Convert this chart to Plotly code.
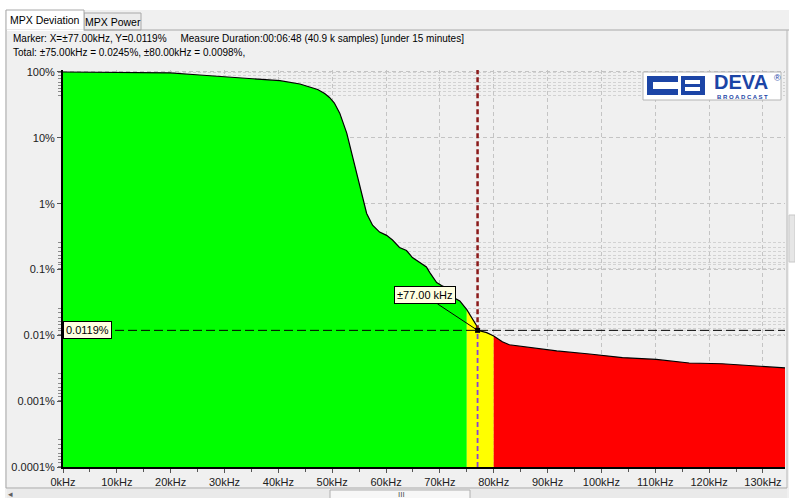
import math
import plotly.graph_objects as go

# ---- Deviation distribution (percent of samples exceeding each deviation) ----
freq_khz = [0, 16.1, 19.9, 25.4, 31.0, 40.3, 44.0, 45.8, 47.3, 48.6, 49.5,
            50.4, 51.4, 52.7, 53.6, 54.5, 55.5, 56.4, 57.5, 58.8, 60.1, 61.2,
            62.5, 63.8, 64.9, 66.2, 67.5, 68.1, 69.4, 70.3, 71.2, 72.7, 73.7,
            75.0, 76.1, 76.8, 77.0, 78.7, 80.0, 81.6, 82.9, 86.6, 91.7, 97.8,
            103.9, 110.2, 116.3, 122.4, 128.8, 134.1]
exceed_pct = [100, 99.0, 96.6, 90.0, 83.0, 73.7, 65.7, 59.8, 54.2, 47.2, 41.0,
              33.8, 23.7, 11.8, 5.86, 2.90, 1.44, 0.71, 0.47, 0.37, 0.33,
              0.28, 0.216, 0.194, 0.152, 0.128, 0.109, 0.0905, 0.0635, 0.0570,
              0.0530, 0.0370, 0.0333, 0.0245, 0.0177, 0.0141, 0.0119, 0.0110,
              0.0098, 0.0080, 0.0072, 0.0066, 0.0058, 0.0052, 0.0046, 0.0043,
              0.0038, 0.0037, 0.0034, 0.0032]

# zone limits (kHz)
limit_warn = 75.0
limit_over = 80.0

# marker
marker_khz = 77.0
marker_pct = 0.0119

x_tick_vals = [0, 10, 20, 30, 40, 50, 60, 70, 80, 90, 100, 110, 120, 130]
x_tick_text = [f"{v}kHz" for v in x_tick_vals]
y_tick_vals = [100, 10, 1, 0.1, 0.01, 0.001, 0.0001]
y_tick_text = ["100%", "10%", "1%", "0.1%", "0.01%", "0.001%", "0.0001%"]

header_1 = ("Marker: X=\u00b177.00kHz, Y=0.0119%     Measure Duration:00:06:48 "
            "(40.9 k samples) [under 15 minutes]")
header_2 = "Total: \u00b175.00kHz = 0.0245%, \u00b180.00kHz = 0.0098%,"

# ---- layout geometry ----
W, H = 795, 498
ML, MR, MT, MB = 63, 10, 70, 31
X_RANGE = [0, 134.1]
Y_LOG_RANGE = [-4, 2.03]
Y_FLOOR = 10 ** Y_LOG_RANGE[0]
Y_TOP = 10 ** Y_LOG_RANGE[1]

FONT = "Liberation Sans, Arial, sans-serif"
GREEN, YELLOW, RED = "#00ff00", "#ffff00", "#ff0000"
PANEL = "#f0f0f0"


def fx(px):
    return (px - ML) / (W - ML - MR)


def fy(py):
    return (H - MB - py) / (H - MT - MB)


def zone(lo, hi):
    pts = [(x, y) for x, y in zip(freq_khz, exceed_pct) if lo <= x <= hi]
    xs = [p[0] for p in pts]
    ys = [p[1] for p in pts]
    return xs + [xs[-1], xs[0]], ys + [Y_FLOOR, Y_FLOOR]


fig = go.Figure()

for (lo, hi), col in [((0, limit_warn), GREEN),
                      ((limit_warn, limit_over), YELLOW),
                      ((limit_over, X_RANGE[1]), RED)]:
    zx, zy = zone(lo, hi)
    fig.add_trace(go.Scatter(x=zx, y=zy, mode="lines", fill="toself",
                             fillcolor=col, line=dict(width=0),
                             hoverinfo="skip", showlegend=False))

# curve outline
fig.add_trace(go.Scatter(x=freq_khz, y=exceed_pct, mode="lines",
                         line=dict(color="#000000", width=1.2),
                         showlegend=False))

# marker cross-hairs
fig.add_trace(go.Scatter(x=X_RANGE, y=[marker_pct, marker_pct], mode="lines",
                         line=dict(color="#000000", width=1, dash="9px,4px"),
                         showlegend=False))
fig.add_trace(go.Scatter(x=[marker_khz, marker_khz], y=[marker_pct, Y_TOP],
                         mode="lines",
                         line=dict(color="#8b1a1a", width=2.5, dash="5px,3px"),
                         showlegend=False))
fig.add_trace(go.Scatter(x=[marker_khz, marker_khz], y=[Y_FLOOR, marker_pct],
                         mode="lines",
                         line=dict(color="#8a3fd6", width=1.8, dash="5px,3px"),
                         showlegend=False))
fig.add_trace(go.Scatter(x=[marker_khz], y=[marker_pct], mode="markers",
                         marker=dict(symbol="square", size=5, color="#000000"),
                         showlegend=False))

# minor grid clusters near each decade
up_mult = [1.03, 1.18, 1.29, 1.45, 1.63, 1.88, 2.19, 2.6]
down_mult = [0.99, 0.89, 0.79, 0.70, 0.63, 0.56, 0.50, 0.44]
minor_vals = []
for k in range(-4, 0):
    minor_vals += [10 ** k * m for m in up_mult]
minor_vals += [100 * m for m in down_mult]

fig.update_xaxes(range=X_RANGE, tickmode="array", tickvals=x_tick_vals,
                 ticktext=x_tick_text, showgrid=True, gridcolor="#c4c4c4",
                 griddash="4px,3px", gridwidth=1, zeroline=False,
                 showline=True, linecolor="#000000", linewidth=1.5,
                 ticks="outside", ticklen=4, tickcolor="#555555",
                 tickfont=dict(family=FONT, size=11, color="#202020"),
                 minor=dict(dtick=5, ticks="outside", ticklen=3,
                            tickcolor="#555555", showgrid=False))
fig.update_yaxes(type="log", range=Y_LOG_RANGE, tickmode="array",
                 tickvals=y_tick_vals, ticktext=y_tick_text, showgrid=True,
                 gridcolor="#c4c4c4", griddash="4px,3px", gridwidth=1,
                 zeroline=False, showline=True, linecolor="#000000",
                 linewidth=2, ticks="outside", ticklen=4, tickcolor="#555555",
                 tickfont=dict(family=FONT, size=11, color="#202020"),
                 minor=dict(tickvals=minor_vals, ticks="outside", ticklen=3,
                            tickcolor="#8a8a8a", showgrid=True,
                            gridcolor="#d2d2d2", griddash="3px,2px",
                            gridwidth=1))

shapes = []


def rect(x0, y0, x1, y1, fill, line=None, lw=1, layer="above"):
    shapes.append(dict(type="rect", xref="paper", yref="paper",
                       x0=fx(x0), x1=fx(x1), y0=fy(y1), y1=fy(y0),
                       fillcolor=fill, layer=layer,
                       line=dict(color=line or fill, width=lw if line else 0)))


def hline(x0, x1, y, col, lw=1):
    shapes.append(dict(type="line", xref="paper", yref="paper",
                       x0=fx(x0), x1=fx(x1), y0=fy(y), y1=fy(y),
                       line=dict(color=col, width=lw)))


def vline(x, y0, y1, col, lw=1):
    shapes.append(dict(type="line", xref="paper", yref="paper",
                       x0=fx(x), x1=fx(x), y0=fy(y0), y1=fy(y1),
                       line=dict(color=col, width=lw)))


def label(text, x, y, size, color="#000000", xanchor="center", bold=False):
    return dict(text=f"<b>{text}</b>" if bold else text, x=fx(x), y=fy(y),
                xref="paper", yref="paper", xanchor=xanchor,
                yanchor="middle", showarrow=False,
                font=dict(family=FONT, size=size, color=color))


# window frame: white surround, tabs, panel border, scrollbar
rect(0, 0, W, 10, "#ffffff")
rect(789, 10, W, H, "#ffffff")
rect(0, 10, 5, H, "#ffffff")
rect(84, 13, 141, 30, "#ececec", "#a8a8a8")
rect(6, 10, 84, 30, "#ffffff", "#a8a8a8")
hline(84, 789, 30, "#a8a8a8")
rect(6.5, 29.5, 83.5, 31, "#ffffff")
vline(6, 30, 488, "#a8a8a8")
vline(787, 30, 488, "#b8b8b8")
hline(6, 787, 488, "#a8a8a8")
rect(7, 489, 787, H, "#eaeaea")
rect(330, 490, 470, H + 2, "#f7f7f7", "#b0b0b0")
rect(789, 215, W, 262, "#e6e6e6", "#c8c8c8")

# logo
BLUE = "#1c45a6"
rect(643, 72, 781, 100, "#ffffff", "#b4b4b4")
rect(647, 76, 678, 95, BLUE)
rect(681, 76, 705, 95, BLUE)
rect(653, 82, 681, 89, "#ffffff")
rect(685, 80, 700, 84, "#ffffff")
rect(685, 87, 700, 91, "#ffffff")

annotations = [
    label("MPX Deviation", 45, 20, 10.5),
    label("MPX Power", 112.5, 21.5, 10.5),
    label(header_1, 11, 38.5, 10, xanchor="left"),
    label(header_2, 11, 52.5, 10, xanchor="left"),
    label("DEVA", 741, 82, 20, BLUE, bold=True),
    label("B R O A D C A S T", 742.5, 96.5, 6, BLUE, bold=True),
    label("\u00ae", 777.5, 78, 9, BLUE),
    label("III", 401, 494.5, 8, "#505050"),
    label("\u25c2", 11, 493.5, 9, "#606060"),
    # value labels of the marker
    dict(text="0.0119%", x=0, xref="paper", xanchor="left",
         y=math.log10(marker_pct), yref="y", yanchor="middle",
         showarrow=False, bgcolor="#ffffe1", bordercolor="#000000",
         borderwidth=1, borderpad=2,
         font=dict(family=FONT, size=11, color="#000000")),
    dict(text="\u00b177.00 kHz", x=marker_khz, xref="x",
         y=math.log10(marker_pct), yref="y", showarrow=True, arrowhead=0,
         arrowwidth=1, arrowcolor="#000000", ax=-53, ay=-35, standoff=0,
         bgcolor="#ffffe1", bordercolor="#000000", borderwidth=1,
         borderpad=2, font=dict(family=FONT, size=11, color="#000000")),
]

fig.update_layout(width=W, height=H,
                  margin=dict(l=ML, r=MR, t=MT, b=MB, pad=0),
                  paper_bgcolor=PANEL, plot_bgcolor=PANEL,
                  showlegend=False, shapes=shapes, annotations=annotations,
                  font=dict(family=FONT))

fig.write_html("out.html")
